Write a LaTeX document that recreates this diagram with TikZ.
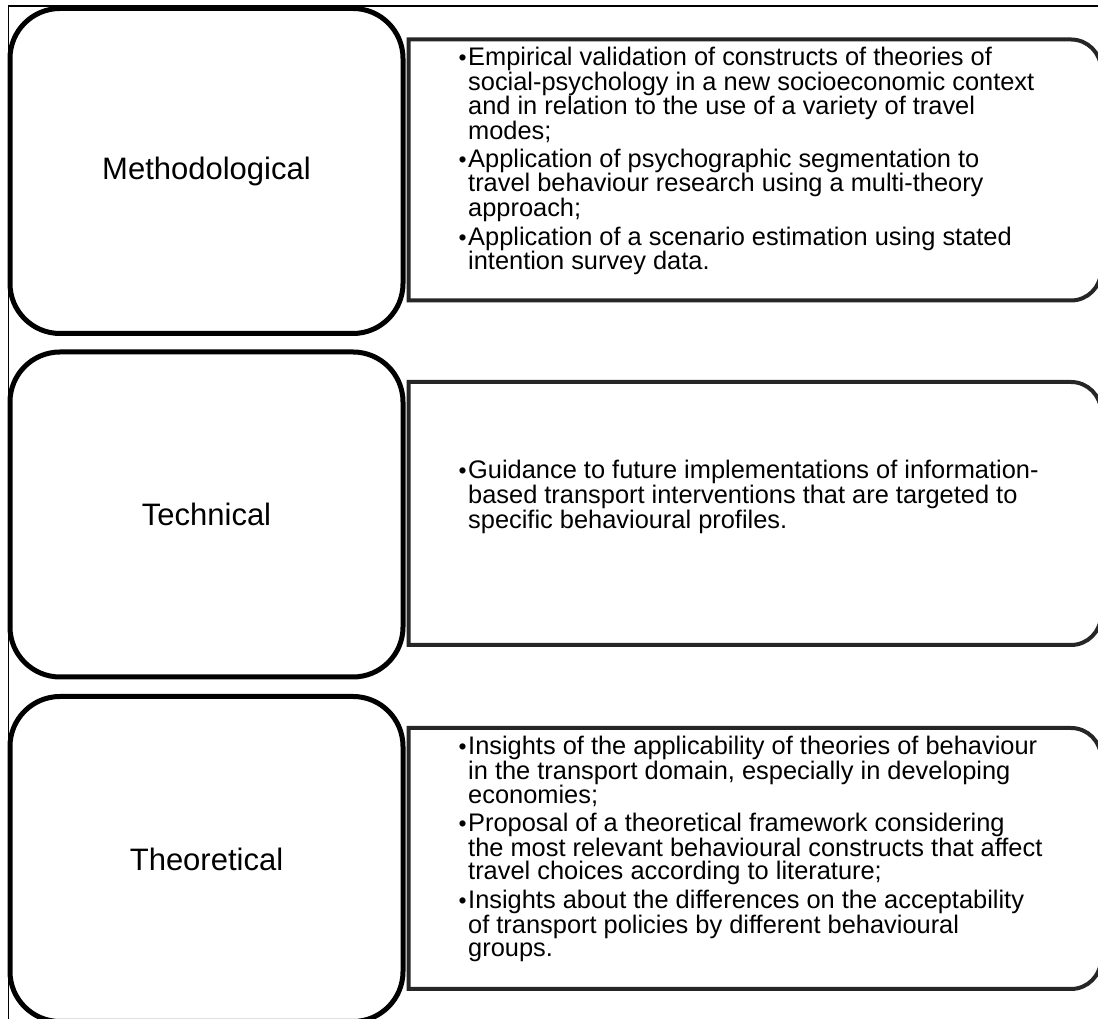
\documentclass[tikz,border=0pt]{standalone}
\usepackage{fontspec}
\setmainfont{Liberation Sans}
\usepackage{tikz}

\newcommand{\bul}{\makebox[11pt][r]{\scalebox{0.9}{\textbullet}\hspace{1.5pt}}}
\newcommand{\ind}{\hspace*{11pt}}

\begin{document}
\begin{tikzpicture}[
  x=1pt,y=1pt,
  cat/.style={draw=black,line width=5pt,rounded corners=50pt,fill=white,
    minimum width=393pt,minimum height=325pt,inner sep=0pt,
    font=\fontsize{31}{36}\selectfont},
  detail/.style={anchor=west,inner sep=0pt,align=left,
    font=\fontsize{25.4}{23.6}\selectfont},
  tab/.style={draw=black!85,line width=4pt},
  frame/.style={draw=black,line width=1.3pt}
]
\useasboundingbox (0,0) rectangle (1098,1019);
\clip (0,0) rectangle (1098,1019);

% outer frame (cut off at right and bottom)
\draw[frame] (1110,1013) -- (8.5,1013) -- (8.5,-20);

% right-hand panels
\draw[tab] (408.5,979.5) -- (1071,979.5) arc[start angle=90,end angle=0,radius=30]
  -- (1101,748.5) arc[start angle=0,end angle=-90,radius=30] -- (408.5,718.5) -- cycle;
\draw[tab] (408.5,637) -- (1071,637) arc[start angle=90,end angle=0,radius=30]
  -- (1101,404) arc[start angle=0,end angle=-90,radius=30] -- (408.5,374) -- cycle;
\draw[tab] (408.5,291) -- (1071,291) arc[start angle=90,end angle=0,radius=30]
  -- (1101,60) arc[start angle=0,end angle=-90,radius=30] -- (408.5,30) -- cycle;

% left-hand categories
\node[cat] (meth) at (206.5,848) {Methodological};
\node[cat] (tech) at (206.5,504.5) {Technical};
\node[cat] (theo) at (206.5,160) {Theoretical};

% bullet texts
\node[detail] (methtxt) at (457,858) {%
  \bul Empirical validation of constructs of theories of\\
  \ind social-psychology in a new socioeconomic context\\
  \ind and in relation to the use of a variety of travel\\
  \ind modes;\\[4pt]
  \bul Application of psychographic segmentation to\\
  \ind travel behaviour research using a multi-theory\\
  \ind approach;\\[4pt]
  \bul Application of a scenario estimation using stated\\
  \ind intention survey data.};
\node[detail] (techtxt) at (457,522) {%
  \bul Guidance to future implementations of information-\\
  \ind based transport interventions that are targeted to\\
  \ind specific behavioural profiles.};
\node[detail] (theotxt) at (457,170) {%
  \bul Insights of the applicability of theories of behaviour\\
  \ind in the transport domain, especially in developing\\
  \ind economies;\\[4pt]
  \bul Proposal of a theoretical framework considering\\
  \ind the most relevant behavioural constructs that affect\\
  \ind travel choices according to literature;\\[4pt]
  \bul Insights about the differences on the acceptability\\
  \ind of transport policies by different behavioural\\
  \ind groups.};
\end{tikzpicture}
\end{document}
